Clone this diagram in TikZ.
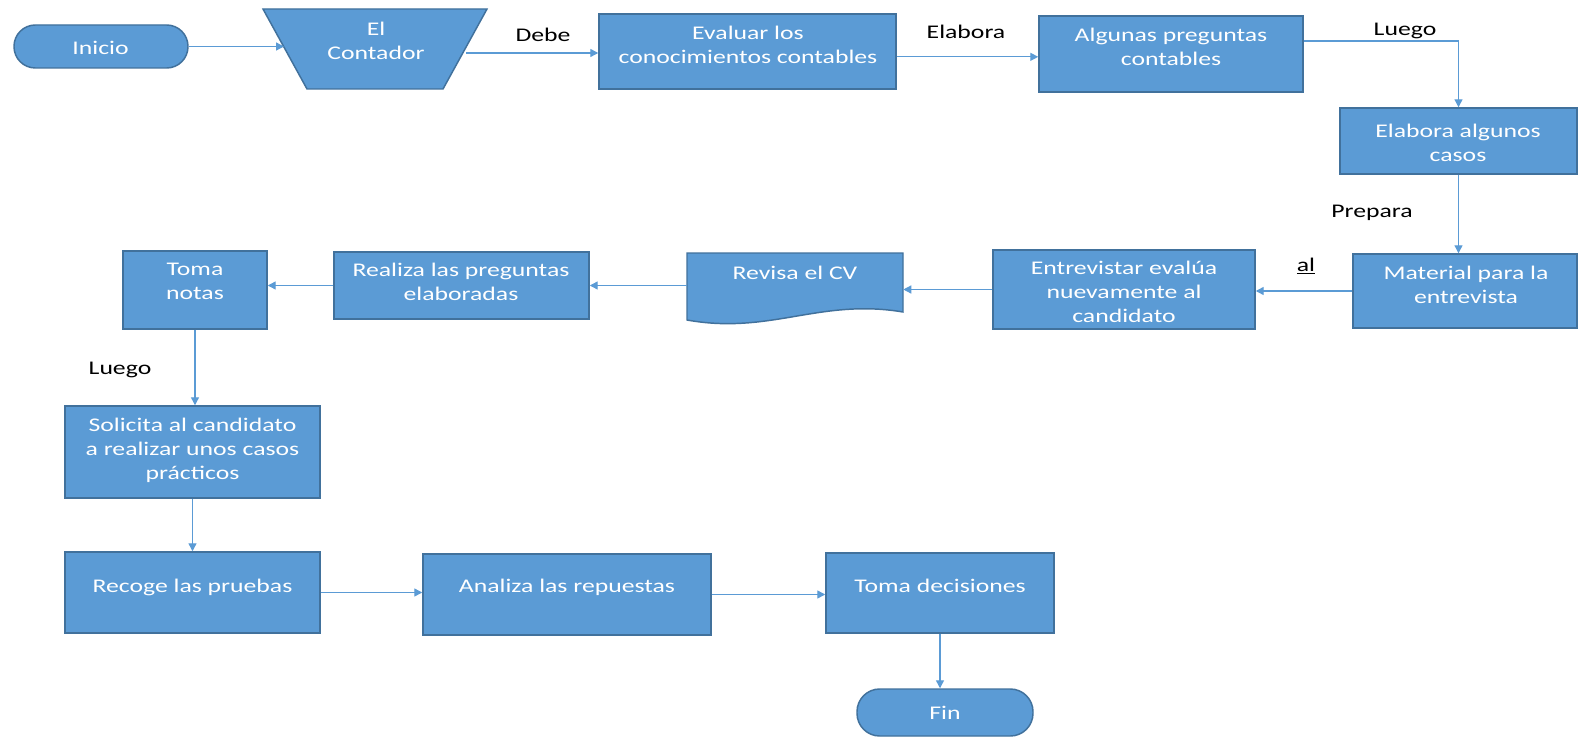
\documentclass[tikz,border=0pt]{standalone}
\usepackage{fontspec}
\setmainfont{Carlito}[FakeStretch=1.33]
\usetikzlibrary{fit,arrows.meta}
\definecolor{fillc}{HTML}{5B9BD5}
\definecolor{bordc}{HTML}{41719C}
\definecolor{arrc}{HTML}{5B9BD5}
\begin{document}
\begin{tikzpicture}[x=0.75pt,y=-0.75pt,
  box/.style={draw=bordc, fill=fillc, line width=1.1pt, inner sep=0pt},
  term/.style={box, rounded corners=16pt},
  txt/.style={text=white, font=\fontsize{14.5}{18}\selectfont, align=center, inner sep=0pt},
  lbl/.style={text=black, font=\fontsize{14.5}{18}\selectfont, inner sep=0pt},
  arr/.style={draw=arrc, line width=1pt, -{Triangle[length=6pt,width=6pt]}}]

\path[use as bounding box, fill=white] (0,0) rectangle (1578,738);

% shapes
\node[term, fit={(14,25) (188,68)}] (inicio) {};
\path[box] (263,9) -- (487,9) -- (443,89) -- (307,89) -- cycle;
\node[inner sep=0pt, fit={(263,9) (487,89)}] (contador) {};
\coordinate (contador-w) at (284,47);
\coordinate (contador-e) at (466,53);
\node[box, fit={(599,14) (896,89)}] (evaluar) {};
\node[box, fit={(1039,16) (1303,92)}] (algunas) {};
\node[box, fit={(1340,108) (1577,174)}] (casos) {};
\node[box, fit={(1353,254) (1577,328)}] (material) {};
\node[box, fit={(993,250) (1255,329)}] (entrevistar) {};
\path[box] (687,253) -- (903,253) -- (903,312)
   .. controls (820,298) and (770,335) .. (687,320) -- cycle;
\node[inner sep=0pt, fit={(687,253) (903,312)}] (revisa) {};
\node[box, fit={(334,252) (589,319)}] (realiza) {};
\node[box, fit={(123,251) (267,329)}] (notas) {};
\node[box, fit={(65,406) (320,498)}] (solicita) {};
\node[box, fit={(65,552) (320,633)}] (recoge) {};
\node[box, fit={(423,554) (711,635)}] (analiza) {};
\node[box, fit={(826,553) (1054,633)}] (decis) {};
\node[term, rounded corners=17pt, fit={(857,689) (1033,736)}] (fin) {};

% texts
\node[txt] (inicio-t) at (100.5,48) {Inicio};
\node[txt] (contador-t) at (376,41) {El\\Contador};
\node[txt] (evaluar-t) at (748,45) {Evaluar los\\conocimientos contables};
\node[txt] (algunas-t) at (1171,46.5) {Algunas preguntas\\contables};
\node[txt] (casos-t) at (1458,142.5) {Elabora algunos\\casos};
\node[txt] (material-t) at (1466,284.5) {Material para la\\entrevista};
\node[txt] (entrevistar-t) at (1124,292) {Entrevistar evalúa\\nuevamente al\\candidato};
\node[txt] (revisa-t) at (795,273) {Revisa el CV};
\node[txt] (realiza-t) at (461,281.5) {Realiza las preguntas\\elaboradas};
\node[txt] (notas-t) at (195,281.5) {Toma\\notas};
\node[txt] (solicita-t) at (192.5,450.5) {Solicita al candidato\\a realizar unos casos\\prácticos};
\node[txt] (recoge-t) at (192.5,587) {Recoge las pruebas};
\node[txt] (analiza-t) at (567,587) {Analiza las repuestas};
\node[txt] (decis-t) at (940,586) {Toma decisiones};
\node[txt] (fin-t) at (945,713) {Fin};

% labels
\node[lbl] (l-debe) at (543,35) {Debe};
\node[lbl] (l-elabora) at (966,32) {Elabora};
\node[lbl] (l-luego1) at (1405,31) {Luego};
\node[lbl] (l-prepara) at (1372,213) {Prepara};
\node[lbl] (l-al) at (1306,266) {\underline{al}};
\node[lbl] (l-luego2) at (120,370) {Luego};

% connectors
\draw[arr] (inicio.east) -- (inicio.east -| contador-w);
\draw[arr] (contador-e) -- (contador-e -| evaluar.west);
\draw[arr] ([yshift=-4pt]evaluar.east) -- ([yshift=-4pt]evaluar.east -| algunas.west);
\draw[arr] ([yshift=9.75pt]algunas.east) -| (casos.north);
\draw[arr] (casos.south) -- (casos.south |- material.north);
\draw[arr] (material.west) -- (material.west -| entrevistar.east);
\draw[arr] (entrevistar.west) -- (entrevistar.west -| revisa.east);
\draw[arr] (realiza.east -| revisa.west) -- (realiza.east);
\draw[arr] (realiza.west) -- (realiza.west -| notas.east);
\draw[arr] (notas.south) -- (notas.south |- solicita.north);
\draw[arr] (solicita.south) -- (recoge.north);
\draw[arr] (recoge.east) -- (recoge.east -| analiza.west);
\draw[arr] (analiza.east) -- (analiza.east -| decis.west);
\draw[arr] (decis.south) -- (decis.south |- fin.north);
\end{tikzpicture}
\end{document}
